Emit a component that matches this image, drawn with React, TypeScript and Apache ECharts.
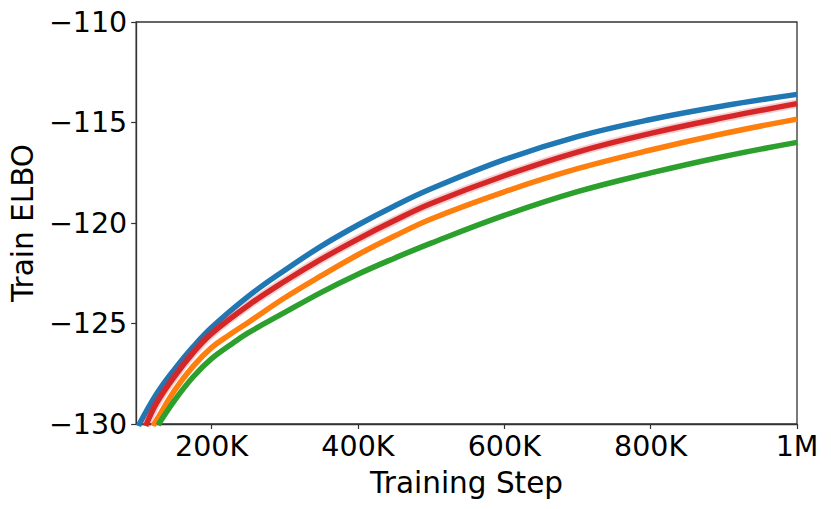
import React, { useEffect, useRef } from "react";
import * as echarts from "echarts";

const xTicks = [200000, 400000, 600000, 800000, 1000000];
const yTicks = [-130, -125, -120, -115, -110];

const blueSteps = [100000, 125000, 150000, 175000, 200000, 250000, 300000, 350000, 400000, 450000, 500000, 600000, 700000, 800000, 900000, 1000000];
const blueVals = [-130.1, -128.5, -127.25, -126.15, -125.2, -123.65, -122.35, -121.15, -120.1, -119.15, -118.3, -116.85, -115.7, -114.85, -114.17, -113.6];

const redSteps = [110000, 125000, 150000, 175000, 200000, 250000, 300000, 350000, 400000, 450000, 500000, 600000, 700000, 800000, 900000, 1000000];
const redVals = [-130.1, -128.95, -127.6, -126.45, -125.5, -124.1, -122.9, -121.8, -120.8, -119.88, -119.03, -117.65, -116.47, -115.54, -114.76, -114.06];

const orangeSteps = [120000, 125000, 150000, 175000, 200000, 225000, 250000, 300000, 350000, 400000, 450000, 500000, 600000, 700000, 800000, 900000, 1000000];
const orangeVals = [-130.1, -129.8, -128.3, -127.12, -126.2, -125.55, -124.95, -123.72, -122.62, -121.58, -120.65, -119.8, -118.45, -117.3, -116.37, -115.55, -114.83];

const greenSteps = [127000, 150000, 175000, 200000, 225000, 250000, 300000, 350000, 400000, 450000, 500000, 600000, 700000, 800000, 900000, 1000000];
const greenVals = [-130.05, -128.8, -127.65, -126.75, -126.08, -125.47, -124.45, -123.45, -122.55, -121.75, -121.0, -119.62, -118.44, -117.51, -116.69, -115.99];

const pair = (xs: number[], ys: number[]) => xs.map((x, i) => [x, ys[i]]);

const FONT = "DejaVu Sans";

export default function App() {
  const ref = useRef<HTMLDivElement>(null);
  useEffect(() => {
    if (!ref.current) return;
    const chart = echarts.init(ref.current, undefined, { renderer: "svg" });
    const line = (name: string, color: string, data: number[][], width: number, opacity = 1) => ({
      name,
      type: "line",
      data,
      smooth: 0.4,
      showSymbol: false,
      symbol: "none",
      clip: true,
      lineStyle: { color, width, opacity },
      itemStyle: { color },
      z: 2,
    });
    chart.setOption({
      animation: false,
      backgroundColor: "#ffffff",
      grid: {
        left: 134,
        right: 34,
        top: 22,
        bottom: 85,
        show: true,
        borderColor: "#333333",
        borderWidth: 1.3,
        containLabel: false,
      },
      xAxis: {
        type: "value",
        min: 97000,
        max: 1000000,
        name: "Training Step",
        nameLocation: "middle",
        nameGap: 44,
        nameTextStyle: { fontFamily: FONT, fontSize: 29.5, color: "#000" },
        axisLine: { show: true, lineStyle: { color: "#333333", width: 1.3 } },
        axisTick: { show: true, length: 5, customValues: xTicks, lineStyle: { color: "#333333", width: 1.2 } },
        axisLabel: {
          customValues: xTicks,
          margin: 8,
          fontFamily: FONT,
          fontSize: 28.5,
          color: "#000",
          formatter: (v: number) => (v >= 1000000 ? v / 1000000 + "M" : v / 1000 + "K"),
        },
        splitLine: { show: false },
      },
      yAxis: {
        type: "value",
        min: yTicks[0],
        max: yTicks[yTicks.length - 1],
        interval: 5,
        name: "Train ELBO",
        nameLocation: "middle",
        nameGap: 98,
        nameTextStyle: { fontFamily: FONT, fontSize: 29.5, color: "#000" },
        axisLine: { show: true, lineStyle: { color: "#333333", width: 1.3 } },
        axisTick: { show: true, length: 5, lineStyle: { color: "#333333", width: 1.2 } },
        axisLabel: {
          margin: 9,
          fontFamily: FONT,
          fontSize: 28.5,
          color: "#000",
          formatter: (v: number) => String(v).replace("-", "\u2212"),
        },
        splitLine: { show: false },
      },
      series: [
        line("blue", "#1f77b4", pair(blueSteps, blueVals), 5.5),
        line("orange", "#ff7f0e", pair(orangeSteps, orangeVals), 5.5),
        line("green", "#2ca02c", pair(greenSteps, greenVals), 5.5),
        line("red band", "#d62728", pair(redSteps, redVals), 9, 0.22),
        line("red", "#d62728", pair(redSteps, redVals), 5.5),
      ],
    });
    return () => chart.dispose();
  }, []);
  return <div ref={ref} style={{ position: "absolute", left: 0, top: 0, width: 831, height: 509 }} />;
}
